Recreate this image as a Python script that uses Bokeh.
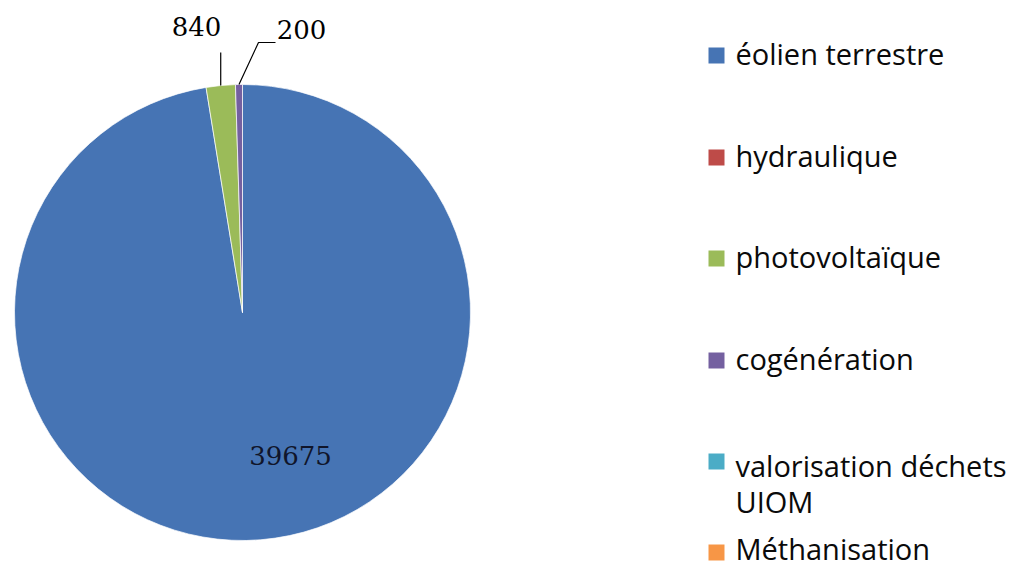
import math
from bokeh.plotting import figure
from bokeh.models import Range1d
from bokeh.core.properties import value
from bokeh.embed import file_html
from bokeh.resources import INLINE

# ---- data ----
categories = ["éolien terrestre", "hydraulique", "photovoltaïque", "cogénération",
              "valorisation déchets\nUIOM", "Méthanisation"]
values = [39675, 0, 840, 200, 0, 0]
colors = ["#4674B4", "#BE4B48", "#9BBB59", "#7460A0", "#4BACC6", "#F79646"]

# ---- layout (page pixel coords -> plot coords) ----
W, H = 1018, 574
def X(px):
    return px
def Y(py):
    return H - py

cx, cy, R = X(242), Y(312), 228

p = figure(width=W, height=H, x_range=Range1d(0, W), y_range=Range1d(0, H),
           min_border=0, toolbar_location=None, output_backend="svg",
           x_axis_location=None, y_axis_location=None)
p.grid.visible = False
p.outline_line_color = None
p.background_fill_color = "white"
p.border_fill_color = "white"

total = float(sum(values))
starts, ends, mids = [], [], []
cum = 0.0
for v in values:
    a0 = math.pi / 2 - cum / total * 2 * math.pi
    cum += v
    a1 = math.pi / 2 - cum / total * 2 * math.pi
    starts.append(a0)
    ends.append(a1)
    mids.append((a0 + a1) / 2)

sel = [i for i, v in enumerate(values) if v > 0]
p.wedge(x=cx, y=cy, radius=R,
        start_angle=[starts[i] for i in sel], end_angle=[ends[i] for i in sel],
        direction="clock", fill_color=[colors[i] for i in sel],
        line_color="white", line_width=1, line_alpha=0.7)

num_font = value("DejaVu Serif")
num_size = "26px"

# big slice label inside
big = values.index(max(values))
p.text(x=[X(290)], y=[Y(455)], text=[str(values[big])], text_font=num_font,
       text_font_size=num_size, text_align="center", text_baseline="middle",
       text_color="#10152a")

# small slice labels with leader lines
i_pv = categories.index("photovoltaïque")
i_cg = categories.index("cogénération")
ex = cx + R * math.cos(mids[i_pv])
ey = cy + R * math.sin(mids[i_pv])
p.line(x=[ex, ex], y=[ey, ey + 33], line_color="black", line_width=1.2)
p.text(x=[X(196)], y=[Y(26)], text=[str(values[i_pv])], text_font=num_font,
       text_font_size=num_size, text_align="center", text_baseline="middle",
       text_color="black")

ex2 = cx + R * math.cos(mids[i_cg])
ey2 = cy + R * math.sin(mids[i_cg])
p.line(x=[ex2, X(258), X(275)], y=[ey2, Y(42), Y(42)], line_color="black", line_width=1.2)
p.text(x=[X(301)], y=[Y(29)], text=[str(values[i_cg])], text_font=num_font,
       text_font_size=num_size, text_align="center", text_baseline="middle",
       text_color="black")

# ---- legend ----
sq_centers = [55, 157, 258, 360, 461, 552]
baselines = [53, 155, 256, 358, 465, 548]
leg_font = value("Open Sans")
for i, cat in enumerate(categories):
    p.rect(x=[X(716)], y=[Y(sq_centers[i])], width=16, height=16,
           fill_color=colors[i], line_color=None)
    lines = cat.split("\n")
    for j, ln in enumerate(lines):
        p.text(x=[X(735)], y=[Y(baselines[i] + 36 * j)], text=[ln], text_font=leg_font,
               text_font_size="29px", text_align="left", text_baseline="alphabetic",
               text_color="#0a0a0a")

open("out.html", "w").write(file_html(p, INLINE))
